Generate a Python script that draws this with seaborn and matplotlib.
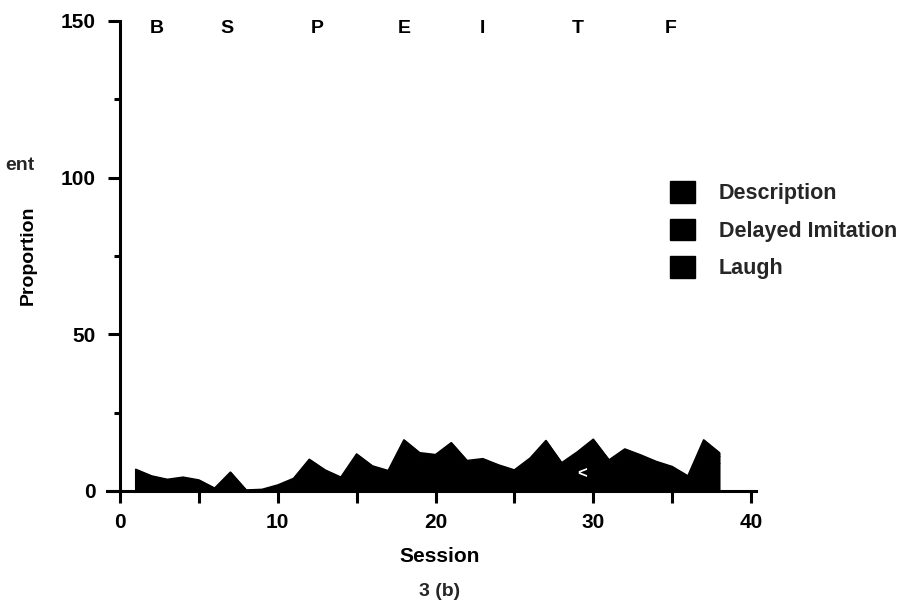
import numpy as np
import pandas as pd
import matplotlib
matplotlib.use("Agg")
import matplotlib.pyplot as plt
import seaborn as sns
from matplotlib.patches import Patch
from matplotlib.ticker import MultipleLocator

sessions = list(range(1, 39))
description = [5.0, 3.5, 2.7, 3.2, 2.5, 0.7, 4.4, 0.2, 0.4, 1.4, 2.9, 7.3, 4.9, 3.2, 8.6, 5.8,
               4.7, 11.8, 8.9, 8.4, 11.2, 7.0, 7.5, 6.0, 4.9, 7.6, 11.7, 6.5, 9.1, 12.0, 7.2,
               9.7, 8.4, 6.8, 5.7, 3.5, 11.8, 8.9]
delayed_imitation = [1.2, 0.9, 0.7, 0.8, 0.6, 0.2, 1.0, 0.1, 0.1, 0.3, 0.7, 1.8, 1.2, 0.8, 2.1,
                     1.4, 1.2, 2.9, 2.2, 2.1, 2.7, 1.7, 1.8, 1.5, 1.2, 1.9, 2.8, 1.6, 2.2, 2.9,
                     1.8, 2.4, 2.0, 1.7, 1.4, 0.9, 2.9, 2.2]
laugh = [0.7, 0.4, 0.3, 0.4, 0.4, 0.0, 0.6, 0.0, 0.0, 0.2, 0.4, 1.0, 0.6, 0.4, 1.1, 0.8, 0.6,
         1.6, 1.1, 1.1, 1.5, 1.0, 1.0, 0.8, 0.6, 1.0, 1.6, 0.9, 1.2, 1.6, 0.9, 1.3, 1.1, 0.9,
         0.7, 0.4, 1.6, 1.1]
phase_labels = ["B", "S", "P", "E", "I", "T", "F"]
phase_x = [2.3, 6.8, 12.5, 18.0, 23.0, 29.0, 34.9]
series_names = ["Description", "Delayed Imitation", "Laugh"]

sns.set_theme(style="ticks")
plt.rcParams["font.family"] = ["Liberation Sans", "DejaVu Sans"]
plt.rcParams["font.weight"] = "bold"

W, H = 908, 607
fig = plt.figure(figsize=(W / 100, H / 100), dpi=100)
x0px, x40px, y0px, y150px = 120, 751, 491, 21
ppu = (x40px - x0px) / 40.0
xmin, xmax = -0.8, 40.3
left = x0px + xmin * ppu
right = x0px + xmax * ppu
ax = fig.add_axes([left / W, 1 - y0px / H, (right - left) / W, (y0px - y150px) / H])

df = pd.DataFrame({"Session": sessions, "Description": description,
                   "Delayed Imitation": delayed_imitation, "Laugh": laugh})
total = df[series_names].sum(axis=1)

ax.stackplot(df["Session"], df["Description"], df["Delayed Imitation"], df["Laugh"],
             colors=["black", "black", "black"], edgecolor="black", linewidth=0.8)
sns.lineplot(x=df["Session"], y=total, ax=ax, color="black", linewidth=1.2)
ax.vlines([sessions[0], sessions[-1]], 0, [total.iloc[0], total.iloc[-1]], color="black", lw=1.5)

ax.text(29.3, 5.5, "<", color="white", fontsize=12, fontweight="bold", ha="center", va="center")

ax.set_xlim(xmin, xmax)
ax.set_ylim(0, 150)
ax.spines["left"].set_position(("data", 0))
ax.set_xticks([0, 10, 20, 30, 40])
ax.xaxis.set_minor_locator(MultipleLocator(5))
ax.set_yticks([0, 50, 100, 150])
ax.yaxis.set_minor_locator(MultipleLocator(25))
sns.despine(ax=ax)
for s in ("left", "bottom"):
    ax.spines[s].set_linewidth(2.2)
    ax.spines[s].set_color("black")
ax.tick_params(axis="both", which="major", length=8.6, width=2.2, colors="black",
               labelsize=15, direction="out")
ax.tick_params(axis="x", which="major", pad=7)
ax.tick_params(axis="y", which="major", pad=9)
ax.tick_params(axis="x", which="minor", length=8.6, width=2.2, colors="black", direction="out")
ax.tick_params(axis="y", which="minor", length=4, width=2.2, colors="black", direction="out")
for lab in ax.get_xticklabels() + ax.get_yticklabels():
    lab.set_fontweight("bold")

ax.set_xlabel("Session", fontsize=15, fontweight="bold", color="black")
ax.xaxis.set_label_coords((440 - left) / (right - left), (y0px - 557) / (y0px - y150px))
ax.xaxis.label.set_va("center")
ax.set_ylabel("Proportion", fontsize=14, fontweight="bold", color="black")
ax.yaxis.set_label_coords((28 - left) / (right - left), (y0px - 255) / (y0px - y150px))
ax.yaxis.label.set_va("center")

for lab, x in zip(phase_labels, phase_x):
    ax.text(x, 147.5, lab, fontsize=14, fontweight="bold", ha="center", va="center", color="black")

fig.text(34 / W, 1 - 165 / H, "ent", fontsize=14, fontweight="bold", ha="right", va="center")
fig.text(440 / W, 1 - 592 / H, "3 (b)", fontsize=14, fontweight="bold", ha="center", va="center")

handles = [Patch(facecolor="black", edgecolor="black", label=n) for n in series_names]
leg = ax.legend(handles=handles, loc="upper left", bbox_to_anchor=(670 / W, 1 - 181 / H),
                bbox_transform=fig.transFigure, frameon=False, borderpad=0, borderaxespad=0,
                prop={"size": 15.5, "weight": "bold"}, handlelength=1.16, handleheight=1.16,
                handletextpad=1.1, labelspacing=0.68)

fig.savefig("out.png", dpi=100, facecolor="white")
